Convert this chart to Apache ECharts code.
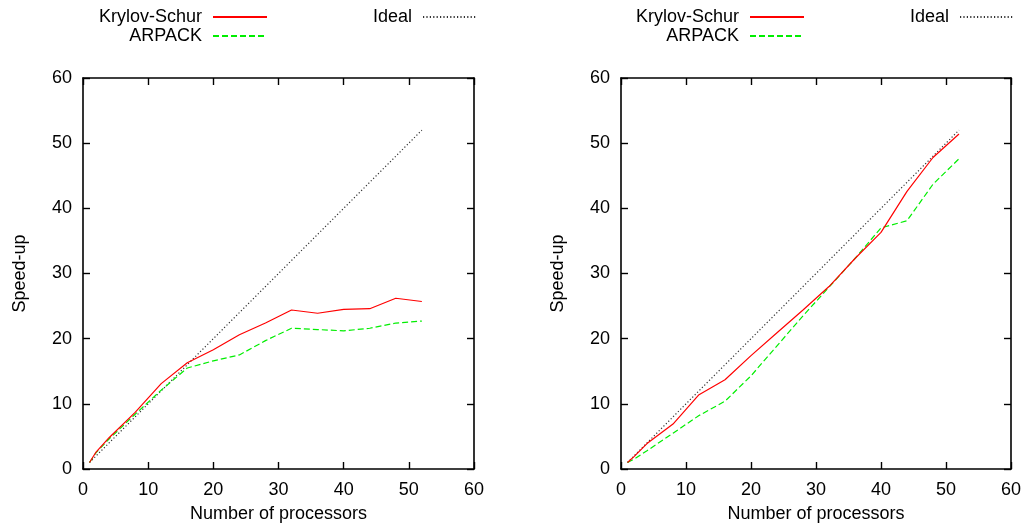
<!DOCTYPE html>
<html>
<head>
<meta charset="utf-8">
<script src="https://cdn.jsdelivr.net/npm/echarts@6/dist/echarts.min.js"></script>
<style>
  html, body { margin: 0; padding: 0; background: #fff; }
  #chart { width: 1027px; height: 531px; }
</style>
</head>
<body>
<div id="chart"></div>
<script>
// number of processors (x values shared by every series)
const procs = [1, 2, 4, 8, 12, 16, 20, 24, 28, 32, 36, 40, 44, 48, 52]
const idealSpeedup = [1, 2, 4, 8, 12, 16, 20, 24, 28, 32, 36, 40, 44, 48, 52]

// left panel
const ksLeft = [1, 2.6, 4.8, 8.7, 13.1, 16.3, 18.3, 20.6, 22.4, 24.4, 23.9, 24.5, 24.6, 26.2, 25.7]
const arLeft = [1, 2.5, 4.6, 8.4, 12.1, 15.5, 16.6, 17.5, 19.7, 21.6, 21.4, 21.2, 21.6, 22.4, 22.7]

// right panel
const ksRight = [1, 1.9, 3.9, 6.9, 11.4, 13.7, 17.4, 20.9, 24.4, 28.0, 32.3, 36.3, 42.6, 47.8, 51.4]
const arRight = [1, 1.5, 2.8, 5.5, 8.2, 10.4, 14.3, 18.9, 23.5, 27.9, 32.3, 37.0, 38.1, 43.7, 47.6]

const FONT = 'Liberation Sans'
const chart = echarts.init(document.getElementById('chart'), null, { renderer: 'canvas' })

function pairs(ys) {
  return procs.map((p, i) => [p, ys[i]])
}

const lineAxis = { onZero: false, lineStyle: { color: '#000', width: 1.6 } }
const tickStyle = { inside: true, length: 7, lineStyle: { color: '#000', width: 1.4 } }

function mainX(gridIndex) {
  return {
    type: 'value', gridIndex, position: 'bottom', min: 0, max: 60, interval: 10,
    name: 'Number of processors', nameLocation: 'middle', nameGap: 36,
    nameTextStyle: { fontFamily: FONT, fontSize: 18, color: '#000' },
    axisLine: lineAxis, axisTick: tickStyle, splitLine: { show: false },
    axisLabel: { fontFamily: FONT, fontSize: 18, color: '#000', margin: 12 },
  }
}
function mirrorX(gridIndex) {
  return {
    type: 'value', gridIndex, position: 'top', min: 0, max: 60, interval: 10,
    axisLine: lineAxis, axisTick: tickStyle, splitLine: { show: false },
    axisLabel: { show: false },
  }
}
function mainY(gridIndex) {
  return {
    type: 'value', gridIndex, position: 'left', min: 0, max: 60, interval: 10,
    name: 'Speed-up', nameLocation: 'middle', nameGap: 54, nameRotate: 90,
    nameTextStyle: { fontFamily: FONT, fontSize: 18, color: '#000' },
    axisLine: lineAxis, axisTick: tickStyle, splitLine: { show: false },
    axisLabel: { fontFamily: FONT, fontSize: 18, color: '#000', margin: 11 },
  }
}
function mirrorY(gridIndex) {
  return {
    type: 'value', gridIndex, position: 'right', min: 0, max: 60, interval: 10,
    axisLine: lineAxis, axisTick: tickStyle, splitLine: { show: false },
    axisLabel: { show: false },
  }
}

function seriesFor(gridIndex, ks, ar) {
  const xi = gridIndex * 2
  return [
    {
      name: 'Krylov-Schur', type: 'line', xAxisIndex: xi, yAxisIndex: xi,
      data: pairs(ks), symbol: 'none', z: 4,
      lineStyle: { color: '#ff0000', width: 1.2 }, itemStyle: { color: '#ff0000' },
    },
    {
      name: 'ARPACK', type: 'line', xAxisIndex: xi, yAxisIndex: xi,
      data: pairs(ar), symbol: 'none', z: 3,
      lineStyle: { color: '#00ee00', width: 1.2, type: [6, 3] }, itemStyle: { color: '#00ee00' },
    },
    {
      name: 'Ideal', type: 'line', xAxisIndex: xi, yAxisIndex: xi,
      data: pairs(idealSpeedup), symbol: 'none', z: 2,
      lineStyle: { color: '#333', width: 1.2, type: [1.2, 2.2] }, itemStyle: { color: '#333' },
    },
  ]
}

function legendItem(name, right, top) {
  return {
    data: [name], right, top, align: 'right', padding: 0,
    itemWidth: 54, itemHeight: 14, selectedMode: false,
    itemStyle: { opacity: 0 },
    textStyle: { fontFamily: FONT, fontSize: 18, color: '#000', padding: [0, 6, 0, 0] },
  }
}

chart.setOption({
  backgroundColor: '#fff',
  animation: false,
  grid: [
    { left: 83, top: 78, width: 391, height: 391 },
    { left: 621, top: 78, width: 390, height: 391 },
  ],
  legend: [
    legendItem('Krylov-Schur', 759, 8),
    legendItem('ARPACK', 759, 27),
    legendItem('Ideal', 549, 8),
    legendItem('Krylov-Schur', 222, 8),
    legendItem('ARPACK', 222, 27),
    legendItem('Ideal', 12, 8),
  ],
  xAxis: [mainX(0), mirrorX(0), mainX(1), mirrorX(1)],
  yAxis: [mainY(0), mirrorY(0), mainY(1), mirrorY(1)],
  series: [...seriesFor(0, ksLeft, arLeft), ...seriesFor(1, ksRight, arRight)],
})
</script>
</body>
</html>
